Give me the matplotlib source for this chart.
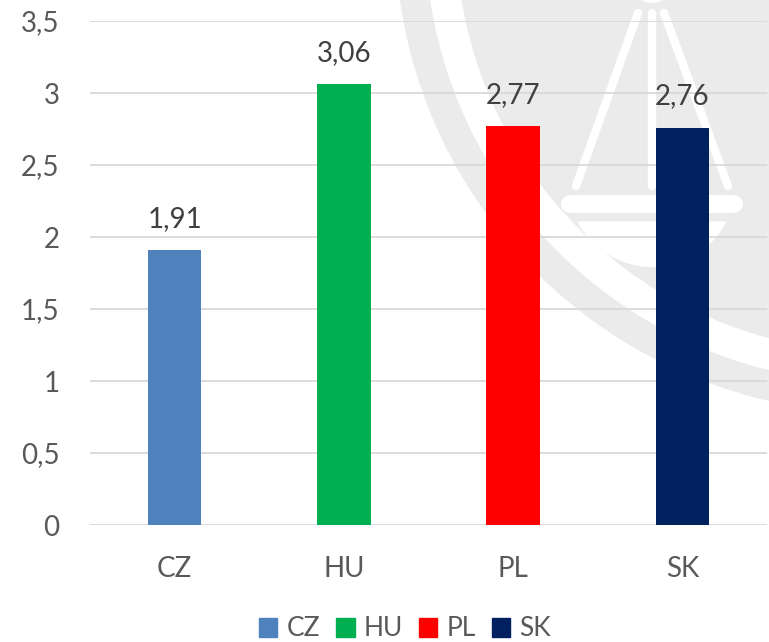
import matplotlib
matplotlib.use("Agg")
import matplotlib.pyplot as plt
from matplotlib.patches import Circle, Polygon
import numpy as np

categories = ["CZ", "HU", "PL", "SK"]
values = [1.91, 3.06, 2.77, 2.76]
labels = ["1,91", "3,06", "2,77", "2,76"]
colors = ["#4F81BD", "#00B050", "#FF0000", "#002060"]
yticks = [0, 0.5, 1, 1.5, 2, 2.5, 3, 3.5]
ytick_labels = ["0", "0,5", "1", "1,5", "2", "2,5", "3", "3,5"]

plt.rcParams['font.family'] = ['Lato', 'DejaVu Sans']

W, H = 769, 642
fig = plt.figure(figsize=(W / 100, H / 100), dpi=100)

# background watermark (pixel coordinates)
bg = fig.add_axes([0, 0, 1, 1], zorder=-5)
bg.set_xlim(0, W)
bg.set_ylim(H, 0)
bg.axis("off")
gray = "#EBEBEB"
cx, cy = 876, -68
bg.add_patch(Circle((cx, cy), 481, color=gray, lw=0))
bg.add_patch(Circle((cx, cy), 451, color="white", lw=0))
bg.add_patch(Circle((cx, cy), 420, color=gray, lw=0))
# scales of justice
lw = 6
bg.plot([638, 576], [13, 186], color="white", lw=lw, solid_capstyle="round")
bg.plot([652, 652], [13, 186], color="white", lw=lw, solid_capstyle="round")
bg.plot([664, 728], [13, 186], color="white", lw=lw, solid_capstyle="round")
bg.plot([570, 734], [204, 204], color="white", lw=13, solid_capstyle="round")
R, bcx, bcy = 84, 652, 183
t = np.linspace(0, np.pi, 100)
px = bcx + R * np.cos(t)
py = bcy + R * np.sin(t)
mask = py >= 221
pts = np.column_stack([px[mask], py[mask]])
bg.add_patch(Polygon(pts, closed=True, color="white", lw=0))
bg.add_patch(Circle((652, -17), 20, color="white", lw=0))

ax = fig.add_axes([90 / W, 1 - 525 / H, (767 - 90) / W, (525 - 21) / H])
ax.set_facecolor("none")
x = np.arange(len(categories))
ax.bar(x, values, width=0.315, color=colors, zorder=3)
ax.set_xlim(-0.5, len(categories) - 0.5)
ax.set_ylim(0, 3.5)
ax.set_yticks(yticks)
ax.set_yticklabels(ytick_labels)
ax.set_xticks(x)
ax.set_xticklabels(categories)
ax.tick_params(axis="both", length=0, labelsize=20, colors="#595959")
ax.tick_params(axis="y", pad=22)
ax.tick_params(axis="x", pad=22)
ax.grid(axis="y", color="#D9D9D9", lw=1.3, zorder=0)
for s in ax.spines.values():
    s.set_visible(False)

for xi, v, lab in zip(x, values, labels):
    ax.annotate(lab, (xi, v), xytext=(0, 13), textcoords="offset points",
                ha="center", va="bottom", fontsize=20, color="#404040")

handles = [plt.Rectangle((0, 0), 1, 1, color=c) for c in colors]
fig.legend(handles, categories, loc="center", bbox_to_anchor=(405 / W, 1 - 629 / H),
           ncol=4, frameon=False, fontsize=19, labelcolor="#595959",
           handlelength=0.7, handleheight=0.7, handletextpad=0.35, columnspacing=0.6)

fig.savefig("out.png", dpi=100)
